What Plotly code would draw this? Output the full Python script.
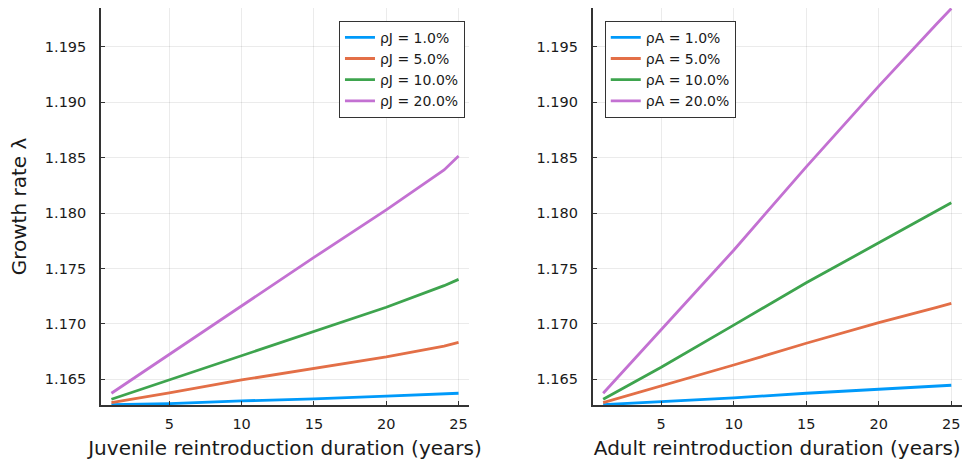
import plotly.graph_objects as go
from plotly.subplots import make_subplots

years = [1, 5, 10, 15, 20, 24, 25]

rho_labels = ["1.0%", "5.0%", "10.0%", "20.0%"]
colors = ["#009AFA", "#E36F47", "#3EA44E", "#C371D2"]

# Juvenile reintroduction (left panel)
juv_1 = [1.16271, 1.16280, 1.16305, 1.16323, 1.16348, 1.16368, 1.16374]
juv_5 = [1.16290, 1.16377, 1.16494, 1.16599, 1.16702, 1.16800, 1.16834]
juv_10 = [1.16320, 1.16494, 1.16713, 1.16930, 1.17150, 1.17345, 1.17402]
juv_20 = [1.16374, 1.16725, 1.17165, 1.17600, 1.18030, 1.18390, 1.18515]

# Adult reintroduction (right panel)
adu_1 = [1.16271, 1.16298, 1.16332, 1.16374, 1.16410, 1.16439, 1.16446]
adu_5 = [1.16290, 1.16440, 1.16629, 1.16825, 1.17011, 1.17150, 1.17186]
adu_10 = [1.16320, 1.16608, 1.16989, 1.17371, 1.17732, 1.18020, 1.18093]
adu_20 = [1.16374, 1.16944, 1.17665, 1.18418, 1.19146, 1.19710, 1.19847]

y_ticks = [1.165, 1.170, 1.175, 1.180, 1.185, 1.190, 1.195]
x_ticks = [5, 10, 15, 20, 25]

FONT = "DejaVu Sans"
TXT = "#1a1a1a"

fig = make_subplots(rows=1, cols=2, horizontal_spacing=0.1)

for series, lab, col in zip([juv_1, juv_5, juv_10, juv_20], rho_labels, colors):
    fig.add_trace(go.Scatter(x=years, y=series, mode="lines", name=f"ρJ = {lab}",
                             line=dict(color=col, width=2.8), legend="legend"), row=1, col=1)
for series, lab, col in zip([adu_1, adu_5, adu_10, adu_20], rho_labels, colors):
    fig.add_trace(go.Scatter(x=years, y=series, mode="lines", name=f"ρA = {lab}",
                             line=dict(color=col, width=2.8), legend="legend2"), row=1, col=2)

axis_common = dict(
    showline=True, linecolor="#333333", linewidth=1.6, mirror=False,
    ticks="inside", ticklen=4, tickwidth=1.2, tickcolor="#333333",
    showgrid=True, gridcolor="rgba(0,0,0,0.08)", gridwidth=1,
    zeroline=False, tickfont=dict(family=FONT, size=14.5, color=TXT),
)

fig.update_xaxes(range=[0.28, 25.72], tickvals=x_ticks, ticklabelstandoff=5, **axis_common)
fig.update_yaxes(range=[1.16268, 1.19852], tickvals=y_ticks, tickformat=".3f",
                 ticklabelstandoff=10, **axis_common)

title_font = dict(family=FONT, size=20, color=TXT)
fig.update_layout(
    xaxis=dict(domain=[0.1049, 0.487],
               title=dict(text="Juvenile reintroduction duration (years)", font=title_font, standoff=10)),
    xaxis2=dict(domain=[0.6155, 0.9987],
                title=dict(text="Adult reintroduction duration (years)", font=title_font, standoff=10)),
    yaxis=dict(domain=[0.1272, 0.9828],
               title=dict(text="Growth rate λ", font=title_font, standoff=13)),
    yaxis2=dict(domain=[0.1272, 0.9828]),
    width=963, height=464,
    margin=dict(l=0, r=0, t=0, b=0),
    paper_bgcolor="white", plot_bgcolor="white",
    font=dict(family=FONT, color=TXT),
    legend=dict(x=0.352, y=0.9554, xanchor="left", yanchor="top",
                bgcolor="white", bordercolor="#333333", borderwidth=1,
                font=dict(family=FONT, size=14), itemwidth=30, tracegroupgap=0),
    legend2=dict(x=0.628, y=0.9554, xanchor="left", yanchor="top",
                 bgcolor="white", bordercolor="#333333", borderwidth=1,
                 font=dict(family=FONT, size=14), itemwidth=30, tracegroupgap=0),
    showlegend=True,
)

fig.write_html("out.html", config={"displayModeBar": False},
               post_script="document.body.style.margin='0';")
